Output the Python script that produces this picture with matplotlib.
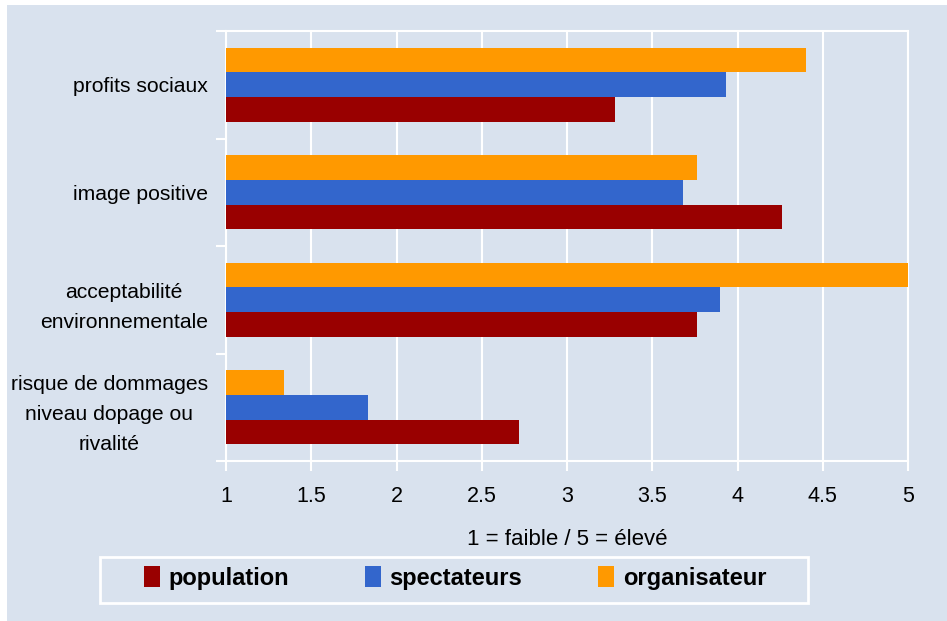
import matplotlib
matplotlib.use("Agg")
import matplotlib.pyplot as plt
from matplotlib.patches import Rectangle, Patch
import numpy as np

plt.rcParams['font.family'] = ['Liberation Sans', 'DejaVu Sans']

categories = ["profits sociaux", "image positive", "acceptabilité\nenvironnementale",
              "risque de dommages\nniveau dopage ou\nrivalité"]
population = [3.28, 4.26, 3.76, 2.72]
spectateurs = [3.93, 3.68, 3.90, 1.83]
organisateur = [4.40, 3.76, 5.00, 1.34]
series_names = ["population", "spectateurs", "organisateur"]
colors = ["#990000", "#3366CC", "#FF9900"]
xticks = [1, 1.5, 2, 2.5, 3, 3.5, 4, 4.5, 5]
xlabel = "1 = faible / 5 = élevé"

bg = "#D9E2EE"
W, H = 947, 621
fig = plt.figure(figsize=(W / 100, H / 100), dpi=100, facecolor="white")
fig.patches.append(Rectangle((7 / W, 0), 1 - 7 / W, 1 - 5 / H, transform=fig.transFigure,
                             facecolor=bg, edgecolor="none", zorder=-10))
# legend box
fig.patches.append(Rectangle((100 / W, 1 - 603 / H), 708 / W, 46 / H, transform=fig.transFigure,
                             facecolor=bg, edgecolor="white", linewidth=2, zorder=-5))

ax = fig.add_axes([226 / W, 1 - 461 / H, (908 - 226) / W, (461 - 31) / H])
ax.patch.set_alpha(0)

y = np.arange(len(categories))
h = 0.23
for vals, name, col, off in zip([population, spectateurs, organisateur], series_names, colors, [h, 0, -h]):
    ax.barh(y + off, np.array(vals) - 1, left=1, height=h, color=col, label=name, zorder=3)

ax.set_xlim(1, 5)
ax.set_ylim(len(categories) - 0.5, -0.5)
ax.set_xticks(xticks)
ax.set_xticklabels([f"{t:g}" for t in xticks], fontsize=15.5)
ax.grid(axis="x", color="white", linewidth=1.5, zorder=1)
ax.set_yticks(y)
ax.set_yticklabels(categories, fontsize=15.2, ha="right", multialignment="center",
                   linespacing=1.72)
ax.tick_params(axis="y", which="major", length=0, pad=13)
ax.set_yticks(np.arange(len(categories) + 1) - 0.5, minor=True)
ax.tick_params(axis="y", which="minor", length=7, color="white", width=1.5)
ax.tick_params(axis="x", length=7, color="white", width=1.5, pad=11)
for s in ax.spines.values():
    s.set_color("white")
    s.set_linewidth(1.5)
ax.set_xlabel(xlabel, fontsize=16, labelpad=16)

handles = [Patch(facecolor=c, edgecolor="none") for c in colors]
leg = fig.legend(handles, series_names, loc="center", ncol=3,
                 bbox_to_anchor=(455 / W, 1 - 578 / H),
                 prop={"weight": "bold", "size": 17}, frameon=False,
                 handlelength=0.7, handleheight=1.0, handletextpad=0.35,
                 columnspacing=3.2)

fig.savefig("out.png", dpi=100, facecolor="white")
